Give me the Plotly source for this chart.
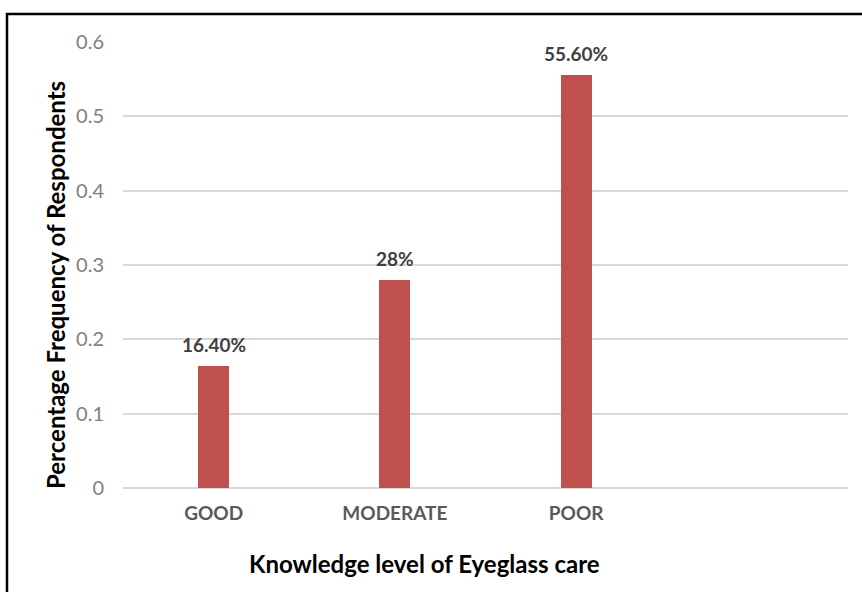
import plotly.graph_objects as go

categories = ["GOOD", "MODERATE", "POOR", " "]
values = [0.164, 0.28, 0.556, None]
labels = ["16.40%", "28%", "55.60%", ""]
y_ticks = [0, 0.1, 0.2, 0.3, 0.4, 0.5, 0.6]
y_ticktext = ["0", "0.1", "0.2", "0.3", "0.4", "0.5", "0.6"]

FONT = "Lato, Open Sans, sans-serif"

fig = go.Figure()
fig.add_trace(go.Bar(
    x=categories, y=values,
    marker=dict(color="#C0504D", line=dict(width=0)),
    width=0.17,
))

label_annots = [
    dict(x=c, y=v, text="<b>%s</b>" % t, showarrow=False, xref="x", yref="y",
         yanchor="bottom", xanchor="center", yshift=8,
         font=dict(family=FONT, size=19, color="#404040"))
    for c, v, t in zip(categories, values, labels) if v is not None
]

fig.update_layout(
    width=862, height=592,
    margin=dict(l=123, r=14, t=42, b=104),
    paper_bgcolor="white", plot_bgcolor="white",
    showlegend=False,
    bargap=0,
    xaxis=dict(
        type="category", range=[-0.5, 3.5],
        tickfont=dict(family=FONT, size=19, color="#595959", weight="bold"),
        showgrid=False, showline=False, ticks="", zeroline=False,
        ticklabelstandoff=12,
    ),
    yaxis=dict(
        range=[0, 0.6], tickvals=y_ticks, ticktext=y_ticktext,
        tickfont=dict(family=FONT, size=20, color="#7F7F7F"),
        showgrid=True, gridcolor="#D9D9D9", gridwidth=2,
        zeroline=True, zerolinecolor="#D9D9D9", zerolinewidth=2,
        showline=False, ticks="", ticklabelstandoff=18,
    ),
    annotations=label_annots + [
        dict(text="<b>Percentage Frequency of Respondents</b>", xref="paper", yref="paper",
             x=(55 - 123) / 725, y=(488 - 285) / 446, textangle=-90, showarrow=False,
             font=dict(family=FONT, size=24, color="black"),
             xanchor="center", yanchor="middle"),
        dict(text="<b>Knowledge level of Eyeglass care</b>", xref="paper", yref="paper",
             x=(424 - 123) / 725, y=(488 - 563) / 446, showarrow=False,
             font=dict(family=FONT, size=24, color="black"),
             xanchor="center", yanchor="middle"),
    ],
    shapes=[
        dict(type="rect", xref="paper", yref="paper",
             x0=(7 - 123) / 725, x1=(870 - 123) / 725,
             y0=(488 - 600) / 446, y1=(488 - 14) / 446,
             line=dict(color="black", width=2.5), fillcolor="rgba(0,0,0,0)", layer="above"),
    ],
)

fig.write_html("out.html")
